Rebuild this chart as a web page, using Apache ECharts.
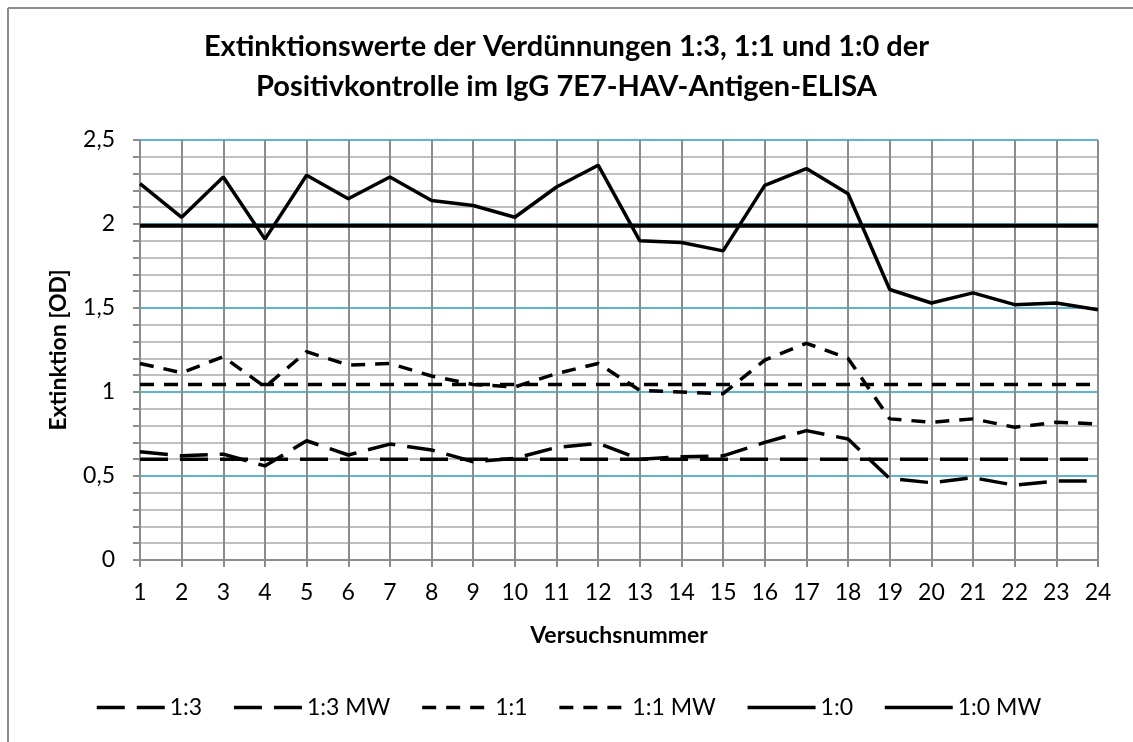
<!DOCTYPE html>
<html>
<head>
<meta charset="utf-8">
<script src="https://cdn.jsdelivr.net/npm/echarts@6/dist/echarts.min.js"></script>
<style>
  html, body { margin: 0; padding: 0; background: #fff; }
  #chart { width: 1133px; height: 742px; }
</style>
</head>
<body>
<div id="chart"></div>
<script>
const versuche = ['1','2','3','4','5','6','7','8','9','10','11','12','13','14','15','16','17','18','19','20','21','22','23','24'];

const verd13 = [0.645, 0.62, 0.63, 0.56, 0.71, 0.625, 0.69, 0.655, 0.585, 0.605, 0.67, 0.695,
                0.60, 0.615, 0.62, 0.70, 0.77, 0.72, 0.485, 0.46, 0.49, 0.445, 0.47, 0.47];
const verd13MW = [0.60, 0.60, 0.60, 0.60, 0.60, 0.60, 0.60, 0.60, 0.60, 0.60, 0.60, 0.60,
                  0.60, 0.60, 0.60, 0.60, 0.60, 0.60, 0.60, 0.60, 0.60, 0.60, 0.60, 0.60];
const verd11 = [1.17, 1.115, 1.21, 1.03, 1.24, 1.16, 1.17, 1.095, 1.045, 1.03, 1.11, 1.17,
                1.01, 1.00, 0.99, 1.19, 1.29, 1.20, 0.84, 0.82, 0.84, 0.79, 0.82, 0.81];
const verd11MW = [1.045, 1.045, 1.045, 1.045, 1.045, 1.045, 1.045, 1.045, 1.045, 1.045, 1.045, 1.045,
                  1.045, 1.045, 1.045, 1.045, 1.045, 1.045, 1.045, 1.045, 1.045, 1.045, 1.045, 1.045];
const verd10 = [2.24, 2.04, 2.28, 1.91, 2.29, 2.15, 2.28, 2.14, 2.11, 2.04, 2.22, 2.35,
                1.90, 1.89, 1.84, 2.23, 2.33, 2.18, 1.61, 1.53, 1.59, 1.52, 1.53, 1.49];
const verd10MW = [1.99, 1.99, 1.99, 1.99, 1.99, 1.99, 1.99, 1.99, 1.99, 1.99, 1.99, 1.99,
                  1.99, 1.99, 1.99, 1.99, 1.99, 1.99, 1.99, 1.99, 1.99, 1.99, 1.99, 1.99];

const FONT = 'Lato, "Open Sans", sans-serif';

function lineSeries(name, data, dash, width) {
  return {
    name: name,
    type: 'line',
    data: data,
    symbol: 'none',
    silent: true,
    color: '#000',
    lineStyle: { color: '#000', width: width, type: dash }
  };
}

const chart = echarts.init(document.getElementById('chart'));
chart.setOption({
  animation: false,
  backgroundColor: '#fff',
  textStyle: { fontFamily: FONT },
  graphic: [
    { type: 'line', shape: { x1: 8, y1: 8, x2: 1133, y2: 8 }, style: { stroke: '#8c8c8c', lineWidth: 2 }, silent: true },
    { type: 'line', shape: { x1: 8, y1: 8, x2: 8, y2: 742 }, style: { stroke: '#8c8c8c', lineWidth: 2 }, silent: true }
  ],
  title: {
    text: 'Extinktionswerte der Verdünnungen 1:3, 1:1 und 1:0 der\nPositivkontrolle im IgG 7E7-HAV-Antigen-ELISA',
    left: 'center',
    top: 27,
    padding: 0,
    textStyle: { fontFamily: FONT, fontSize: 29, fontWeight: 'bold', color: '#000', lineHeight: 40 }
  },
  legend: {
    left: 90,
    top: 691,
    itemWidth: 68,
    itemHeight: 14,
    itemGap: 30,
    itemStyle: { opacity: 0 },
    lineStyle: { width: 3.5 },
    textStyle: { fontFamily: FONT, fontSize: 23, color: '#000' },
    data: ['1:3', '1:3 MW', '1:1', '1:1 MW', '1:0', '1:0 MW']
  },
  grid: { left: 140, right: 35, top: 140, bottom: 182, containLabel: false },
  xAxis: {
    type: 'category',
    data: versuche,
    boundaryGap: false,
    name: 'Versuchsnummer',
    nameLocation: 'middle',
    nameGap: 64,
    nameTextStyle: { fontFamily: FONT, fontSize: 23, fontWeight: 'bold', color: '#000' },
    axisLine: { lineStyle: { color: '#8c8c8c', width: 2 } },
    axisTick: { show: true, length: 7, lineStyle: { color: '#8c8c8c', width: 2 } },
    axisLabel: { fontFamily: FONT, fontSize: 23, color: '#000', margin: 21, interval: 0 },
    splitLine: { show: true, lineStyle: { color: '#8c8c8c', width: 2 } }
  },
  yAxis: {
    type: 'value',
    min: 0,
    max: 2.5,
    interval: 0.5,
    name: 'Extinktion [OD]',
    nameLocation: 'middle',
    nameRotate: 90,
    nameGap: 70,
    nameTextStyle: { fontFamily: FONT, fontSize: 23, fontWeight: 'bold', color: '#000' },
    axisLine: { show: true, lineStyle: { color: '#8c8c8c', width: 2 } },
    axisTick: { show: true, length: 7, lineStyle: { color: '#8c8c8c', width: 2 } },
    minorTick: { show: true, splitNumber: 5, length: 7, lineStyle: { color: '#8c8c8c', width: 2 } },
    axisLabel: {
      fontFamily: FONT, fontSize: 23, color: '#000', margin: 25,
      formatter: v => String(v).replace('.', ',')
    },
    splitLine: { show: true, lineStyle: { color: '#5cb6cf', width: 2 } },
    minorSplitLine: { show: true, lineStyle: { color: '#c0c0c0', width: 2 } }
  },
  series: [
    lineSeries('1:3', verd13, [28, 12], 3.5),
    lineSeries('1:3 MW', verd13MW, [28, 12], 3.5),
    lineSeries('1:1', verd11, [14, 10], 3.5),
    lineSeries('1:1 MW', verd11MW, [14, 10], 3.5),
    lineSeries('1:0', verd10, 'solid', 3.5),
    lineSeries('1:0 MW', verd10MW, 'solid', 4)
  ]
});
</script>
</body>
</html>
